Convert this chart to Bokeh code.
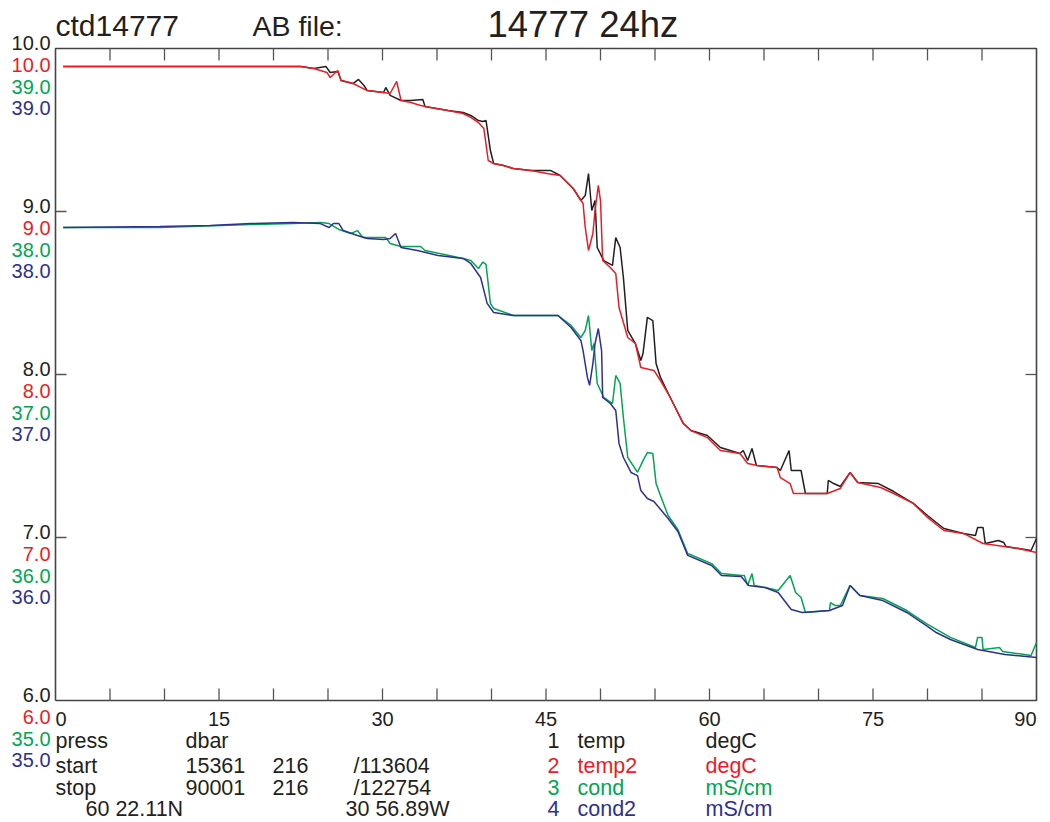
import math
from bokeh.plotting import figure
from bokeh.models import Range1d
from bokeh.core.properties import value
from bokeh.embed import file_html
from bokeh.resources import INLINE

# ---------------- data ----------------
temp_press = [0.7, 22.5, 23.7, 24.8, 25.2, 25.9, 26.2, 27.3, 27.8, 28.3, 28.6, 30.1, 30.3, 30.7, 31.7,
              32.6, 33.7, 33.9, 36.0, 37.4, 38.1, 38.8, 39.2, 39.5, 39.9, 40.2, 41.1, 42.0, 43.6, 45.4,
              46.3, 47.5, 48.2, 48.6, 48.9, 49.2, 49.5, 49.7, 50.3, 51.1, 51.4, 51.8, 52.1, 52.5, 53.2,
              53.7, 53.9, 54.3, 54.8, 55.1, 55.5, 56.4, 57.6, 58.3, 59.8, 61.0, 62.8, 63.1, 63.5, 63.9,
              64.3, 66.2, 66.5, 67.3, 67.5, 68.4, 68.8, 70.8, 70.9, 71.4, 72.0, 72.9, 73.6, 75.5, 76.9,
              78.7, 80.0, 81.5, 83.3, 84.4, 84.6, 85.1, 85.3, 86.5, 87.0, 87.2, 89.5, 90.0]
temp = [9.89, 9.89, 9.877, 9.890, 9.853, 9.859, 9.804, 9.785, 9.810, 9.773, 9.742, 9.730, 9.761, 9.712, 9.681,
        9.681, 9.687, 9.644, 9.620, 9.607, 9.589, 9.558, 9.552, 9.558, 9.374, 9.294, 9.282, 9.264, 9.252, 9.252,
        9.221, 9.141, 9.067, 9.098, 9.233, 9.006, 9.067, 8.779, 8.699, 8.669, 8.840, 8.779, 8.595, 8.270, 8.190,
        8.086, 8.129, 8.350, 8.331, 8.067, 7.982, 7.859, 7.699, 7.656, 7.626, 7.552, 7.515, 7.534, 7.472, 7.546,
        7.442, 7.429, 7.411, 7.534, 7.411, 7.411, 7.270, 7.270, 7.350, 7.331, 7.313, 7.399, 7.337, 7.331, 7.282,
        7.209, 7.135, 7.055, 7.025, 7.012, 7.061, 7.061, 6.963, 6.982, 6.969, 6.945, 6.920, 6.994]

temp2_press = [0.7, 11.5, 22.5, 23.7, 24.9, 25.2, 25.9, 26.2, 27.3, 28.6, 30.1, 30.7, 31.3, 31.7, 32.6,
               33.5, 34.4, 36.0, 37.4, 38.1, 38.8, 39.3, 39.7, 40.2, 41.1, 42.0, 43.6, 45.1, 46.3, 47.5,
               48.4, 48.6, 48.9, 49.3, 49.5, 49.8, 50.0, 50.2, 50.9, 51.4, 51.7, 52.5, 53.2, 53.7, 54.9,
               55.5, 56.4, 57.6, 58.3, 59.8, 61.0, 62.8, 63.5, 64.4, 66.2, 66.5, 67.4, 67.7, 70.8, 72.0,
               72.9, 73.6, 75.7, 76.9, 78.7, 80.0, 81.5, 83.3, 85.1, 88.3, 90.0]
temp2 = [9.89, 9.89, 9.89, 9.877, 9.853, 9.822, 9.865, 9.804, 9.785, 9.742, 9.730, 9.724, 9.798, 9.681, 9.669,
         9.650, 9.638, 9.620, 9.601, 9.577, 9.546, 9.509, 9.313, 9.294, 9.282, 9.264, 9.252, 9.233, 9.221, 9.141,
         9.049, 8.902, 8.761, 8.865, 9.006, 9.160, 9.067, 8.699, 8.656, 8.620, 8.411, 8.227, 8.190, 8.043, 8.025,
         7.963, 7.859, 7.699, 7.656, 7.613, 7.534, 7.515, 7.454, 7.442, 7.429, 7.368, 7.331, 7.270, 7.270, 7.301,
         7.399, 7.337, 7.307, 7.270, 7.209, 7.123, 7.043, 7.025, 6.963, 6.933, 6.908]

cond_press = [0.7, 9.6, 17.9, 21.8, 24.3, 25.1, 26.0, 27.1, 27.7, 28.2, 30.3, 30.7, 31.7, 33.5, 33.9,
              37.4, 38.1, 38.8, 39.2, 39.5, 39.9, 40.2, 42.0, 46.1, 47.3, 48.2, 48.6, 48.9, 49.2, 49.4,
              49.7, 50.3, 51.1, 51.4, 51.8, 52.1, 52.5, 53.4, 53.9, 54.3, 54.8, 55.1, 55.5, 56.2, 57.1,
              58.0, 60.2, 61.1, 62.9, 63.2, 63.5, 63.9, 64.1, 65.1, 66.3, 67.4, 67.9, 68.4, 68.8, 71.0,
              71.1, 71.5, 72.0, 72.9, 73.8, 75.9, 78.1, 79.9, 82.1, 84.4, 84.6, 85.0, 85.1, 86.6, 86.9,
              89.5, 90.0]
cond = [37.902, 37.902, 37.920, 37.926, 37.933, 37.926, 37.890, 37.865, 37.883, 37.840, 37.840, 37.804, 37.785, 37.785, 37.761,
        37.712, 37.700, 37.650, 37.690, 37.675, 37.436, 37.405, 37.362, 37.362, 37.301, 37.227, 37.270, 37.362, 37.147, 37.190,
        36.945, 36.859, 36.822, 36.994, 36.945, 36.736, 36.491, 36.400, 36.472, 36.521, 36.515, 36.331, 36.258, 36.135, 36.049,
        35.902, 35.840, 35.779, 35.767, 35.767, 35.706, 35.779, 35.706, 35.693, 35.675, 35.767, 35.663, 35.632, 35.540, 35.552,
        35.601, 35.583, 35.583, 35.706, 35.644, 35.626, 35.552, 35.472, 35.387, 35.325, 35.387, 35.387, 35.313, 35.325, 35.301,
        35.276, 35.356]

cond2_press = [0.7, 9.6, 14.2, 17.9, 21.8, 24.3, 25.1, 25.5, 26.0, 26.4, 27.7, 28.6, 30.1, 30.7, 31.2,
               31.7, 33.2, 35.1, 37.4, 38.1, 39.0, 39.6, 40.2, 42.0, 46.1, 47.3, 48.2, 48.4, 48.8, 49.0,
               49.3, 49.5, 49.8, 50.1, 50.2, 50.9, 51.4, 51.7, 52.1, 52.8, 53.4, 53.7, 54.3, 54.9, 56.2,
               57.1, 58.0, 60.2, 61.1, 62.9, 63.6, 65.1, 66.3, 67.5, 68.5, 71.0, 72.2, 72.9, 73.8, 75.9,
               78.1, 79.9, 80.8, 82.1, 84.6, 87.1, 90.0]
cond2 = [37.902, 37.908, 37.914, 37.926, 37.933, 37.926, 37.902, 37.926, 37.926, 37.883, 37.853, 37.834, 37.828, 37.834, 37.865,
         37.779, 37.761, 37.730, 37.712, 37.681, 37.595, 37.436, 37.380, 37.362, 37.362, 37.288, 37.209, 37.147, 36.982, 36.933,
         37.067, 37.190, 37.282, 37.147, 36.859, 36.822, 36.779, 36.577, 36.491, 36.399, 36.380, 36.288, 36.239, 36.221, 36.117,
         36.037, 35.890, 35.828, 35.767, 35.761, 35.706, 35.693, 35.663, 35.558, 35.540, 35.552, 35.583, 35.706, 35.644, 35.613,
         35.540, 35.460, 35.417, 35.374, 35.313, 35.282, 35.264]

temp_ticks = [6.0, 7.0, 8.0, 9.0, 10.0]
cond_ticks = [35.0, 36.0, 37.0, 38.0, 39.0]
press_ticks = [0, 5, 10, 15, 20, 25, 30, 35, 40, 45, 50, 55, 60, 65, 70, 75, 80, 85, 90]
press_labels = [0, 15, 30, 45, 60, 75, 90]

title_left = "ctd14777"
title_mid = "AB file:"
title_main = "14777 24hz"
info_rows = [["press", "dbar", "", ""],
             ["start", "15361", "216", "/113604"],
             ["stop", "90001", "216", "/122754"]]
position = ["60 22.11N", "30 56.89W"]
channel_nums = ["1", "2", "3", "4"]
channel_names = ["temp", "temp2", "cond", "cond2"]
channel_units = ["degC", "degC", "mS/cm", "mS/cm"]

# ---------------- layout / style ----------------
W, H = 1050, 822
LEFT, RIGHT, TOP, BOTTOM = 55, 1036, 48, 700      # plot box in pixels
FONT = "Liberation Sans"
BLACK = "#231f20"
RED = "#ed1c24"
GREEN = "#00a651"
BLUE = "#2e3192"
COLORS = [BLACK, RED, GREEN, BLUE]
FRAME = "#444444"
LW = 1.5

xmin, xmax = press_ticks[0], press_ticks[-1]
ymin, ymax = temp_ticks[0], temp_ticks[-1]
cmin, cmax = cond_ticks[0], cond_ticks[-1]
px_per_x = (RIGHT - LEFT) / (xmax - xmin)
px_per_y = (BOTTOM - TOP) / (ymax - ymin)

# the frame covers the whole canvas so that the surrounding texts are drawn too
x_range = Range1d(xmin - LEFT / px_per_x, xmax + (W - RIGHT) / px_per_x)
y_range = Range1d(ymin - (H - BOTTOM) / px_per_y, ymax + TOP / px_per_y)
c_range = Range1d(cmin - (H - BOTTOM) / px_per_y, cmax + TOP / px_per_y)

p = figure(width=W, height=H, output_backend="svg", toolbar_location=None,
           x_range=x_range, y_range=y_range, x_axis_type=None, y_axis_type=None,
           min_border=0, min_border_left=0, min_border_right=0, min_border_top=0, min_border_bottom=0)
p.extra_y_ranges = {"cond": c_range}
p.outline_line_color = None
p.background_fill_color = "white"
p.border_fill_color = "white"

# box
p.line([xmin, xmax, xmax, xmin, xmin], [ymin, ymin, ymax, ymax, ymin], line_color=FRAME, line_width=1.6)

# inward tick marks
inner = press_ticks[1:-1]
p.ray(x=inner, y=[ymin] * len(inner), length=12, length_units="screen", angle=math.pi / 2,
      line_color="#555555", line_width=1.3)
p.ray(x=inner, y=[ymax] * len(inner), length=12, length_units="screen", angle=-math.pi / 2,
      line_color="#555555", line_width=1.3)
ytk = temp_ticks[1:-1]
p.ray(x=[xmin] * len(ytk), y=ytk, length=11, length_units="screen", angle=0,
      line_color="#555555", line_width=1.3)
p.ray(x=[xmax] * len(ytk), y=ytk, length=11, length_units="screen", angle=math.pi,
      line_color="#555555", line_width=1.3)

# ---------------- lines ----------------
p.line(temp_press, temp, line_color=BLACK, line_width=LW)
p.line(temp2_press, temp2, line_color=RED, line_width=LW)
p.line(cond_press, cond, line_color=GREEN, line_width=LW, y_range_name="cond")
p.line(cond2_press, cond2, line_color=BLUE, line_width=LW, y_range_name="cond")


def txt(texts, xs, ys, dx, dy, color=BLACK, size="20px", align="left"):
    p.text(x=xs, y=ys, text=texts, x_offset=dx, y_offset=dy, text_color=color,
           text_font=value(FONT), text_font_size=value(size), text_align=align,
           text_baseline="middle")


n = len(temp_ticks)
zeros = [xmin] * n
# left multi-scale labels (y offsets in screen pixels, positive = down)
txt([f"{t:.1f}" for t in temp_ticks], zeros, temp_ticks, -5, -6, BLACK, align="right")
txt([f"{t:.1f}" for t in temp_ticks], zeros, temp_ticks, -5, 16, RED, align="right")
txt([f"{c:.1f}" for c in cond_ticks], zeros, temp_ticks, -5, 38, GREEN, align="right")
txt([f"{c:.1f}" for c in cond_ticks], zeros, temp_ticks, -5, 59, BLUE, align="right")

# pressure labels
for i, v in enumerate(press_labels):
    al = "left" if i == 0 else ("right" if i == len(press_labels) - 1 else "center")
    txt([str(v)], [v], [ymin], 0, 18, BLACK, align=al)

# titles
txt([title_left], [xmin], [ymax], 0, -23, BLACK, size="30px")
txt([title_mid], [xmin], [ymax], 197, -23, BLACK, size="28.5px")
txt([title_main], [xmin], [ymax], 432, -24, BLACK, size="36.5px")

# info block
row_dy = [40, 65, 87, 108]
col_dx = [0, 130, 217, 298]
BS = "21.5px"
for r, row in enumerate(info_rows):
    for ci, t in enumerate(row):
        if t:
            txt([t], [xmin], [ymin], col_dx[ci], row_dy[r], BLACK, size=BS)
txt([position[0]], [xmin], [ymin], 30, row_dy[3], BLACK, size=BS)
txt([position[1]], [xmin], [ymin], 290, row_dy[3], BLACK, size=BS)

# channel list
for i in range(4):
    txt([channel_nums[i]], [xmin], [ymin], 492, row_dy[i], COLORS[i], size=BS)
    txt([channel_names[i]], [xmin], [ymin], 522, row_dy[i], COLORS[i], size=BS)
    txt([channel_units[i]], [xmin], [ymin], 650, row_dy[i], COLORS[i], size=BS)

open("out.html", "w").write(file_html(p, INLINE))
